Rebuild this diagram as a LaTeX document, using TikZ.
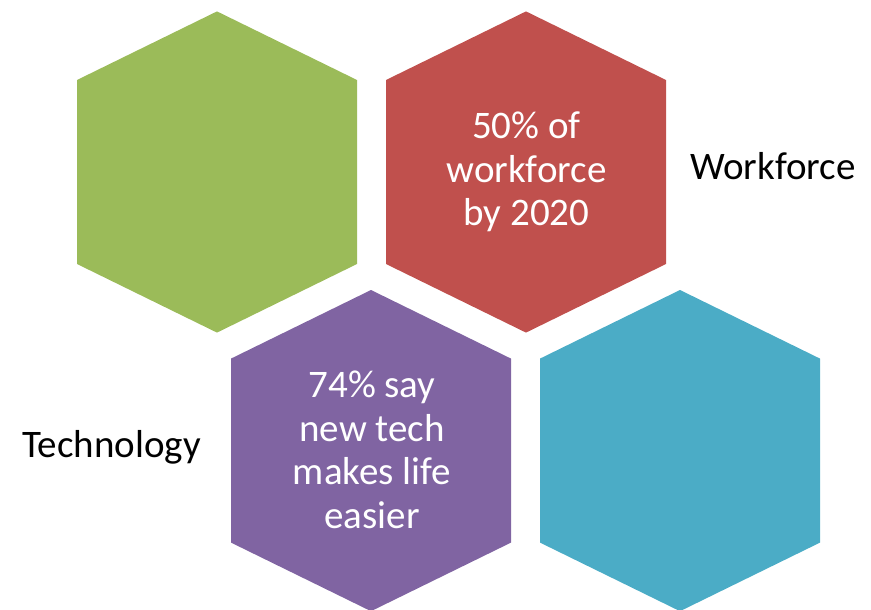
\documentclass[tikz,border=0pt]{standalone}
\usepackage{fontspec}
\setmainfont{Carlito}
\definecolor{hexgreen}{HTML}{9BBB59}
\definecolor{hexred}{HTML}{C0504D}
\definecolor{hexpurple}{HTML}{8064A2}
\definecolor{hexteal}{HTML}{4BACC6}
\begin{document}
\begin{tikzpicture}[x=1pt,y=-1pt,
  hexa/.pic={\fill[pic actions] (0,-160.6) -- (140,-92) -- (140,92) -- (0,160.6)
      -- (-140,92) -- (-140,-92) -- cycle;},
  hextext/.style={text=white,align=center,inner sep=0pt,
      font=\fontsize{39}{43.5}\selectfont},
  sidelabel/.style={text=black,inner sep=0pt,anchor=base west,
      font=\fontsize{39}{43}\selectfont}]
  \useasboundingbox (0,0) rectangle (871,610);
  % honeycomb of four cells
  \pic[fill=hexgreen]  at (217,172)   {hexa};
  \pic[fill=hexred]    at (526,172)   {hexa};
  \pic[fill=hexpurple] at (371,450.6) {hexa};
  \pic[fill=hexteal]   at (680,450.6) {hexa};
  % cell texts
  \node[hextext] (workforcefact) at (526.5,172) {50\% of\\workforce\\by 2020};
  \node[hextext] (techfact) at (372,450) {74\% say\\new tech\\makes life\\easier};
  % side labels
  \node[sidelabel] (workforce) at (690,179.3) {Workforce};
  \node[sidelabel] (technology) at (22,457.7) {Technology};
\end{tikzpicture}
\end{document}
